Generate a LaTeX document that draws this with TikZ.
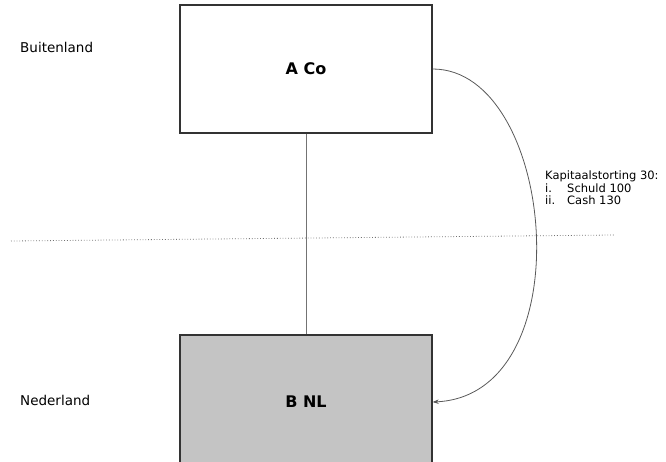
\documentclass[tikz,border=0pt]{standalone}
\usepackage{fontspec}
\setmainfont{DejaVu Sans}
\usetikzlibrary{arrows.meta}

\begin{document}
\begin{tikzpicture}[x=1pt, y=-1pt,
  box/.style={rectangle, draw=black!80, line width=1.4pt, minimum width=252pt, inner sep=0pt, font=\fontsize{16}{19}\selectfont\bfseries},
  land/.style={anchor=west, inner sep=0pt, font=\fontsize{13.5}{16}\selectfont}]
  \useasboundingbox (0,0) rectangle (666,461);
  \node (aco) [box, fill=white, minimum height=128pt] at (306,69) {A Co};
  \node (bnl) [box, fill=black!23, minimum height=134pt] at (306,402) {B NL};
  \node (buiten) [land] at (20,47) {Buitenland};
  \node (neder) [land] at (20,400) {Nederland};
  % grens
  \coordinate (gl) at (11,241);
  \coordinate (gr) at (614,235);
  \draw [black!55, dotted, line width=0.8pt] (gl) -- (gr);
  \draw [black!55, line width=0.8pt] (aco.south) -- (bnl.north);
  \draw [black!65, line width=0.8pt, -{Stealth[length=6pt,width=4.5pt,fill=black]}]
    (aco.east) .. controls +(123,0) and +(152,-7) .. (bnl.east);
  \node (storting) [anchor=north west, inner sep=0pt, align=left, font=\fontsize{11.5}{12.5}\selectfont] at (545,171)
    {Kapitaalstorting 30:\\\makebox[22pt][l]{i.}Schuld 100\\\makebox[22pt][l]{ii.}Cash 130};
\end{tikzpicture}
\end{document}
